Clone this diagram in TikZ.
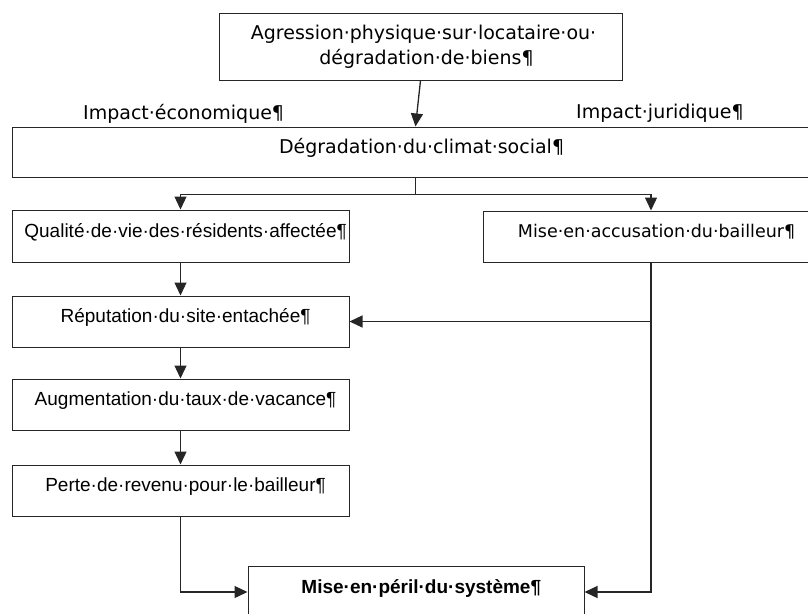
\documentclass[tikz,border=0pt]{standalone}
\usepackage{fontspec}
\newfontfamily\verdfont{DejaVu Sans}
\newfontfamily\arialfont{Liberation Sans}
\usetikzlibrary{arrows.meta}
\tikzset{
	box/.style = {rectangle, draw=black!85, line width=1pt, inner sep=0pt, text centered},
	single/.style = {box, text height=13pt, text depth=11pt},
	vbox/.style = {single, font=\verdfont\fontsize{19}{25}\selectfont},
	abox/.style = {single, font=\arialfont\fontsize{19}{25}\selectfont, minimum width=337pt, minimum height=51pt},
	impact/.style = {inner sep=0pt, font=\verdfont\fontsize{19}{25}\selectfont},
	line/.style = {draw=black!85, line width=1.3pt},
	link/.style = {line, -{Triangle[length=13pt,width=12pt]}}
}

\begin{document}
\begin{tikzpicture}[x=1pt, y=-1pt]
\useasboundingbox (0,0) rectangle (808,613);
\clip (0,0) rectangle (808,613);

\node [box, align=center, font=\verdfont\fontsize{19}{25}\selectfont,
	minimum width=403pt, minimum height=67pt] (agr) at (420.5,46.5)
	{Agression·physique·sur·locataire·ou\rlap{·}\\dégradation·de·biens\rlap{¶}};
\node [impact, anchor=base west] (eco) at (83,119) {Impact·économique¶};
\node [impact, anchor=base west] (jur) at (576,118) {Impact·juridique¶};
\node [vbox, minimum width=807pt, minimum height=50pt] (deg) at (415.5,152) {Dégradation·du·climat·social\rlap{¶}};

\node [abox, minimum height=52pt] (qual) at (180.5,236) {Qualité·de·vie·des·résidents·affectée\rlap{¶}};
\node [vbox, font=\verdfont\fontsize{17.5}{25}\selectfont,
	minimum width=336pt, minimum height=51pt] (acc) at (651,236.5) {Mise·en·accusation·du·bailleur\rlap{¶}};
\node [abox] (rep) at (180.5,321.5) {Réputation·du·site·entachée\rlap{¶}};
\node [abox] (aug) at (180.5,404.5) {Augmentation·du·taux·de·vacance\rlap{¶}};
\node [abox] (perte) at (180.5,490.5) {Perte·de·revenu·pour·le·bailleur\rlap{¶}};
\node [abox, font=\arialfont\bfseries\fontsize{19}{25}\selectfont,
	minimum width=336pt, minimum height=52pt] (peril) at (416,592) {Mise·en·péril·du·système\rlap{¶}};

\draw [link] (agr.south) -- (deg.north);
\draw [line] (deg.south) -- ++(0,17) coordinate (fork);
\draw [link] (fork) -| (qual.north);
\draw [link] (fork) -| (acc.north);
\draw [link] (qual.south) -- (rep.north);
\draw [link] (rep.south) -- (aug.north);
\draw [link] (aug.south) -- (perte.north);
\draw [link] (perte.south) |- (peril.west);
\draw [link] (acc.south) |- (peril.east);
\draw [link] (acc.south |- rep.east) -- (rep.east);
\end{tikzpicture}
\end{document}
